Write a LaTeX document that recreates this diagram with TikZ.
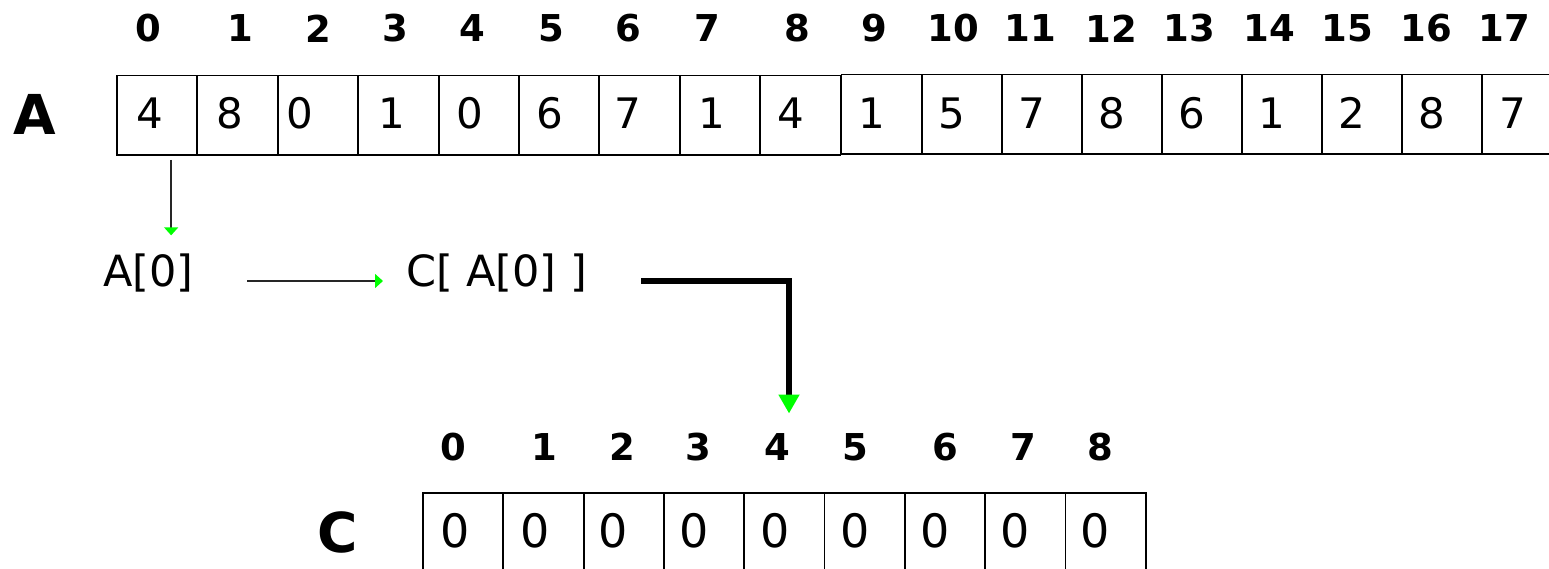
\documentclass[tikz,border=0pt]{standalone}
\usepackage{fontspec}
\setmainfont{DejaVu Sans}
\usetikzlibrary{arrows.meta}

\begin{document}
\begin{tikzpicture}[
    x=1pt, y=-1pt,
    every node/.style={inner sep=0pt, outer sep=0pt},
    cell/.style={
      draw=black, line width=1.8pt, anchor=north west,
      minimum width=80.3pt, minimum height=79.5pt,
    },
    val/.style={font=\fontsize{42}{50}\selectfont},
    cval/.style={font=\fontsize{46}{55}\selectfont},
    idx/.style={font=\fontsize{37}{44}\selectfont\bfseries},
    arrname/.style={font=\fontsize{55}{66}\selectfont\bfseries},
    expr/.style={font=\fontsize{43}{52}\selectfont, anchor=base west},
    thinarrow/.style={
      line width=1.5pt, draw=black!85,
      -{Triangle[color=green, fill=green, width=14pt, length=8pt]},
    },
    boldarrow/.style={
      line width=5.8pt, draw=black,
      -{Triangle[color=green, fill=green, width=20pt, length=19pt]},
    },
  ]
\useasboundingbox (0,0) rectangle (1549,569);
% --- array A: x-positions of the two halves
\def\aX{117}
\def\aY{75.5}
\def\bX{841.5}
\def\bY{74.5}
% --- array C
\def\cX{423}
\def\cY{493}

% Array A, cells 0..8 and 9..17
\foreach \i in {0,...,8}
  \node[cell] (a\i) at (\aX+\i*80.4, \aY) {};
\foreach \i in {9,...,17}
  \node[cell] (a\i) at (\bX+\i*80-720, \bY) {};

% Array A, values
\foreach \i/\v/\x in {0/4/150, 1/8/230, 2/0/300, 3/1/392, 4/0/470, 5/6/550,
    6/7/628, 7/1/712, 8/4/791, 9/1/872, 10/5/952, 11/7/1032, 12/8/1112,
    13/6/1192, 14/1/1272, 15/2/1352, 16/8/1432, 17/7/1513}
  \node[val] (av\i) at (\x, 113) {\v};

% Array A, indices
\foreach \i/\x in {0/148, 1/240, 2/318, 3/395, 4/472, 5/551, 6/628, 7/707,
    8/797, 9/874, 10/953, 11/1030, 12/1111, 13/1189, 14/1269, 15/1347,
    16/1426, 17/1504}
  \node[idx] (ai\i) at (\x, 28.5) {\i};

\node[arrname] (aname) at (35, 114) {A};

% Array C, cells, values and indices
\foreach \i in {0,...,8}
  \node[cell] (c\i) at (\cX+\i*80.3, \cY) {};
\foreach \i/\x in {0/455, 1/535, 2/613, 3/694, 4/775, 5/855, 6/935, 7/1015, 8/1095}
  \node[cval] (cv\i) at (\x, 531) {0};
\foreach \i/\x in {0/453, 1/544, 2/622, 3/698, 4/777, 5/855, 6/945, 7/1023, 8/1100}
  \node[idx] (ci\i) at (\x, 447) {\i};

\node[arrname] (cname) at (338, 532) {C};

% Lookup: A[0] -> C[ A[0] ]
\node[expr] (aref) at (103, 286) {A[0]};
\node[expr] (cref) at (406, 286) {C[ A[0] ]};

\draw[thinarrow, shorten <=5pt, shorten >=18pt]
  ([xshift=14pt]a0.south) -- ([xshift=14pt]a0.south |- aref.north);
\draw[thinarrow, shorten <=54pt, shorten >=23pt]
  ([yshift=-8.5pt]aref.east) -- ([yshift=-8.5pt]cref.west);
\draw[boldarrow, shorten <=54pt, shorten >=20pt]
  ([yshift=-8.5pt]cref.east) -| ([xshift=12pt]ci4.north);
\end{tikzpicture}
\end{document}
